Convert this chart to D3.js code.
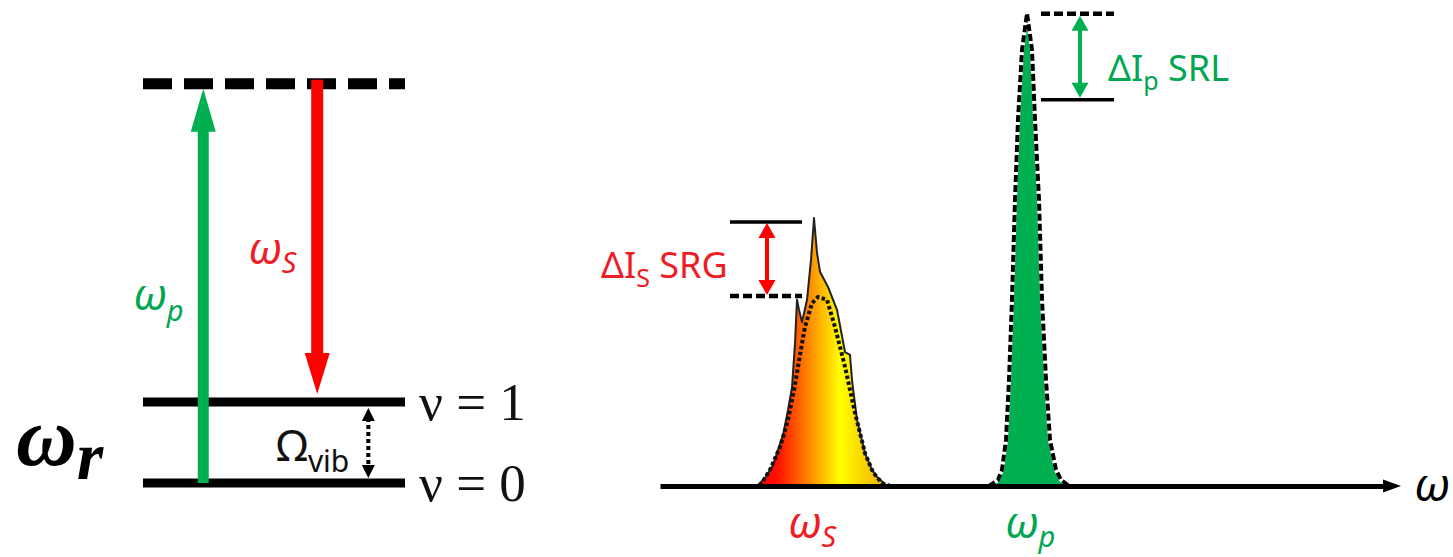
<!DOCTYPE html>
<html>
<head>
<meta charset="utf-8">
<script src="https://cdn.jsdelivr.net/npm/d3@7"></script>
<style>
  body { margin: 0; background: #fff; }
  svg { display: block; }
</style>
</head>
<body>
<script>
// ---- energy level diagram data (energies in units of the vibrational quantum)
const levelNames = ["virtual", "ν = 1", "ν = 0"];
const levelEnergy = [4.93, 1, 0];
const levelDashed = [true, false, false];

// transitions drawn as arrows: pump up to the virtual state, Stokes down to v=1
const transNames = ["p", "S"];
const transFrom = [0, 4.93];
const transTo = [4.93, 1];
const transPos = [2.3, 6.65];   // position along the level line (0..10)

// ---- spectrum data: frequency (arb.) and intensity (% of pump peak)
const stokesFreq = [97, 105, 113, 123, 128, 132, 135, 137, 139, 142, 147, 151, 154, 157, 160, 168, 177, 185, 190, 192, 197, 205, 212, 217, 227];
const stokesInt  = [0, 1.7, 4.4, 10.7, 16.0, 20.8, 30.1, 39.2, 37.1, 34.5, 39.2, 47.6, 56.4, 49.1, 45.1, 41.9, 37.1, 28.2, 27.6, 22.3, 13.9, 6.9, 3.4, 1.9, 0];

// Stokes pulse without stimulated Raman gain (dotted)
const stokesRefFreq = [100, 110, 120, 128, 135, 140, 145, 152, 158, 167, 175, 185, 195, 205, 213, 222, 230];
const stokesRefInt  = [0, 3.4, 8.2, 13.9, 21.3, 27.6, 33.5, 38.5, 39.8, 39.2, 33.5, 25.1, 15.4, 6.9, 2.9, 0.6, 0];

const pumpFreq = [330, 339, 343, 347, 350, 353, 356, 359, 363, 367, 371, 374, 378, 381, 385, 389, 395, 400, 408];
const pumpInt  = [0, 1.3, 3.4, 9.7, 22.3, 39.2, 60.2, 77.1, 91.8, 100, 91.8, 77.1, 60.2, 39.2, 22.3, 9.7, 3.4, 1.3, 0];

// pump pulse reference outline (dashed)
const pumpRefFreq = [329, 338, 342, 346, 349, 352, 355, 358, 362, 367, 372, 375, 379, 382, 386, 390, 396, 401, 409];
const pumpRefInt  = [0, 1.3, 3.4, 9.7, 22.3, 39.2, 60.2, 77.1, 91.8, 99.5, 91.8, 77.1, 60.2, 39.2, 22.3, 9.7, 3.4, 1.3, 0];

// intensity change markers [upper, lower]
const srgLevels = [55.6, 40.0];
const srlLevels = [99.4, 81.3];

const width = 1453;
const height = 557;
const green = "#00b050";
const red = "#ff0000";
const sans = "'Noto Sans', 'Open Sans', sans-serif";
const serif = "'Liberation Serif', 'DejaVu Serif', serif";

const svg = d3.select("body")
  .append("svg")
  .attr("width", width)
  .attr("height", height);

svg.append("rect").attr("width", width).attr("height", height).attr("fill", "#fff");

// scales for the level diagram
const lx = d3.scaleLinear().domain([0, 10]).range([143, 405]);
const ly = d3.scaleLinear().domain([0, 1]).range([483, 402]);

// scales for the spectrum
const fx = d3.scaleLinear().domain([0, 726]).range([660, 1386]);
const iy = d3.scaleLinear().domain([0, 100]).range([486, 11]);

// filled arrow as polygon, from y0 to tip y1
function arrowPath(x, y0, y1, sw, hw, hl) {
  const dir = y1 > y0 ? 1 : -1;
  const hb = y1 - dir * hl;
  return d3.line()([
    [x - sw / 2, y0], [x - sw / 2, hb], [x - hw / 2, hb], [x, y1],
    [x + hw / 2, hb], [x + sw / 2, hb], [x + sw / 2, y0]
  ]) + "Z";
}

function headPath(x, y, dir, hw, hl) {
  return d3.line()([[x - hw / 2, y - dir * hl], [x, y], [x + hw / 2, y - dir * hl]]) + "Z";
}

// ---------------- energy level diagram ----------------
const levels = svg.append("g");

levels.selectAll("line.level")
  .data(levelEnergy)
  .enter()
  .append("line")
  .attr("class", "level")
  .attr("x1", lx(0))
  .attr("x2", lx(10))
  .attr("y1", d => ly(d))
  .attr("y2", d => ly(d))
  .attr("stroke", "#000")
  .attr("stroke-width", (d, i) => levelDashed[i] ? 11 : 9)
  .attr("stroke-dasharray", (d, i) => levelDashed[i] ? "29 12" : null);

levels.selectAll("text.level")
  .data(levelNames.slice(1))
  .enter()
  .append("text")
  .attr("x", lx(10) + 14)
  .attr("y", (d, i) => ly(levelEnergy[i + 1]) + 18)
  .attr("font-family", serif)
  .attr("font-size", 53)
  .attr("fill", "#111")
  .text(d => d);

// pump (up) and Stokes (down) arrows
const transColors = [green, red];
transNames.forEach((name, i) => {
  const up = transTo[i] > transFrom[i];
  const y0 = up ? ly(transFrom[i]) : ly(transFrom[i]) - 4;
  const y1 = up ? ly(transTo[i]) + 5 : ly(transTo[i]) - 8;
  levels.append("path")
    .attr("d", arrowPath(lx(transPos[i]), y0, y1, up ? 11 : 12, 25, up ? 43 : 41))
    .attr("fill", transColors[i]);
});

// transition labels
const labP = levels.append("text")
  .attr("x", lx(transPos[0]) - 70)
  .attr("y", 310)
  .attr("font-family", sans)
  .attr("font-style", "italic")
  .attr("font-size", 43)
  .attr("fill", "#00a650");
labP.append("tspan").text("ω");
labP.append("tspan").attr("dy", 11).attr("font-size", 29).text("p");

const labS = levels.append("text")
  .attr("x", lx(transPos[1]) - 69)
  .attr("y", 264)
  .attr("font-family", sans)
  .attr("font-style", "italic")
  .attr("font-size", 43)
  .attr("fill", "#ee1c24");
labS.append("tspan").text("ω");
labS.append("tspan").attr("dy", 9).attr("font-size", 29).text("S");

// vibrational spacing, dotted double arrow
const vibX = lx(8.6);
levels.append("line")
  .attr("x1", vibX).attr("x2", vibX)
  .attr("y1", ly(1) + 16).attr("y2", ly(0) - 16)
  .attr("stroke", "#000")
  .attr("stroke-width", 4)
  .attr("stroke-dasharray", "4 3");
levels.append("path").attr("d", headPath(vibX, ly(1) + 6, -1, 13, 13)).attr("fill", "#000");
levels.append("path").attr("d", headPath(vibX, ly(0) - 5, 1, 13, 13)).attr("fill", "#000");

const omega = levels.append("text")
  .attr("x", vibX - 92)
  .attr("y", 461)
  .attr("font-family", sans)
  .attr("font-size", 44)
  .attr("fill", "#111");
omega.append("tspan").text("Ω");
omega.append("tspan").attr("dy", 11).attr("font-size", 30).text("vib");

// resonance label
const wr = svg.append("text")
  .attr("x", 16)
  .attr("y", 465)
  .attr("font-family", serif)
  .attr("font-style", "italic")
  .attr("font-weight", "bold")
  .attr("font-size", 84)
  .attr("fill", "#000");
wr.append("tspan").text("ω");
wr.append("tspan").attr("dy", 14).attr("font-size", 68).text("r");

// ---------------- spectrum ----------------
const spec = svg.append("g");

const grad = svg.append("defs").append("linearGradient")
  .attr("id", "stokesGrad")
  .attr("gradientUnits", "userSpaceOnUse")
  .attr("x1", fx(97)).attr("x2", fx(227))
  .attr("y1", 0).attr("y2", 0);
[[0, "#ff0000"], [0.16, "#ff1000"], [0.4, "#ff8800"], [0.64, "#ffff00"], [0.8, "#f8d800"], [1, "#e8b000"]]
  .forEach(s => grad.append("stop").attr("offset", s[0]).attr("stop-color", s[1]));

const area = d3.area()
  .x(d => fx(d[0]))
  .y0(iy(0))
  .y1(d => iy(d[1]));
const line = d3.line()
  .x(d => fx(d[0]))
  .y(d => iy(d[1]));

const stokes = d3.zip(stokesFreq, stokesInt);
const stokesRef = d3.zip(stokesRefFreq, stokesRefInt);
const pump = d3.zip(pumpFreq, pumpInt);
const pumpRef = d3.zip(pumpRefFreq, pumpRefInt);

spec.append("path")
  .attr("d", area(stokes))
  .attr("fill", "url(#stokesGrad)")
  .attr("stroke", "#222")
  .attr("stroke-width", 2)
  .attr("stroke-linejoin", "round");

spec.append("path")
  .attr("d", line(stokesRef))
  .attr("fill", "none")
  .attr("stroke", "#111")
  .attr("stroke-width", 4)
  .attr("stroke-dasharray", "3.5 2.5");

spec.append("path")
  .attr("d", area(pump))
  .attr("fill", green);

spec.append("path")
  .attr("d", line(pumpRef))
  .attr("fill", "none")
  .attr("stroke", "#fff")
  .attr("stroke-width", 4);

spec.append("path")
  .attr("d", line(pumpRef))
  .attr("fill", "none")
  .attr("stroke", "#000")
  .attr("stroke-width", 4)
  .attr("stroke-dasharray", "7 3");

// frequency axis
const axis = spec.append("g")
  .attr("transform", `translate(0, ${iy(0)})`)
  .call(d3.axisBottom(fx).tickValues([]).tickSizeOuter(0));
axis.select(".domain")
  .attr("stroke", "#000")
  .attr("stroke-width", 5);
spec.append("path")
  .attr("d", d3.line()([[fx(726) - 3, iy(0) - 6.5], [fx(726) + 15, iy(0)], [fx(726) - 3, iy(0) + 6.5]]) + "Z")
  .attr("fill", "#000");
spec.append("text")
  .attr("x", fx(726) + 28)
  .attr("y", iy(0) + 15)
  .attr("font-family", sans)
  .attr("font-style", "italic")
  .attr("font-size", 46)
  .attr("fill", "#000")
  .text("ω");

// peak labels under the axis
const peakLabels = [["S", 128, "#ee1c24"], ["p", 345, "#00a650"]];
peakLabels.forEach(p => {
  const t = spec.append("text")
    .attr("x", fx(p[1]))
    .attr("y", 538)
    .attr("font-family", sans)
    .attr("font-style", "italic")
    .attr("font-size", 43)
    .attr("fill", p[2]);
  t.append("tspan").text("ω");
  t.append("tspan").attr("dy", 9).attr("font-size", 29).text(p[0]);
});

// SRG marker on the Stokes peak
const srgX0 = fx(70), srgX1 = fx(142), srgA = fx(107);
spec.append("line")
  .attr("x1", srgX0).attr("x2", srgX1)
  .attr("y1", iy(srgLevels[0])).attr("y2", iy(srgLevels[0]))
  .attr("stroke", "#000").attr("stroke-width", 3.5);
spec.append("line")
  .attr("x1", srgX0).attr("x2", srgX1)
  .attr("y1", iy(srgLevels[1])).attr("y2", iy(srgLevels[1]))
  .attr("stroke", "#000").attr("stroke-width", 4.5)
  .attr("stroke-dasharray", "9 4");
spec.append("line")
  .attr("x1", srgA).attr("x2", srgA)
  .attr("y1", iy(srgLevels[0]) + 10).attr("y2", iy(srgLevels[1]) - 10)
  .attr("stroke", red).attr("stroke-width", 4);
spec.append("path").attr("d", headPath(srgA, iy(srgLevels[0]) + 1, -1, 17, 15)).attr("fill", red);
spec.append("path").attr("d", headPath(srgA, iy(srgLevels[1]) - 1, 1, 17, 15)).attr("fill", red);

const srgText = spec.append("text")
  .attr("x", srgX0 - 129)
  .attr("y", 278)
  .attr("font-family", sans)
  .attr("font-size", 36)
  .attr("fill", "#ee1c24");
srgText.append("tspan").text("ΔI");
srgText.append("tspan").attr("dy", 9).attr("font-size", 25).text("S");
srgText.append("tspan").attr("dy", -9).text(" SRG");

// SRL marker on the pump peak
const srlX0 = fx(381), srlX1 = fx(454), srlA = fx(420);
spec.append("line")
  .attr("x1", srlX0).attr("x2", srlX1)
  .attr("y1", iy(srlLevels[0])).attr("y2", iy(srlLevels[0]))
  .attr("stroke", "#000").attr("stroke-width", 4.5)
  .attr("stroke-dasharray", "9 4");
spec.append("line")
  .attr("x1", srlX0).attr("x2", srlX1)
  .attr("y1", iy(srlLevels[1])).attr("y2", iy(srlLevels[1]))
  .attr("stroke", "#000").attr("stroke-width", 3.5);
spec.append("line")
  .attr("x1", srlA).attr("x2", srlA)
  .attr("y1", iy(srlLevels[0]) + 10).attr("y2", iy(srlLevels[1]) - 10)
  .attr("stroke", green).attr("stroke-width", 4);
spec.append("path").attr("d", headPath(srlA, iy(srlLevels[0]) + 2, -1, 17, 15)).attr("fill", green);
spec.append("path").attr("d", headPath(srlA, iy(srlLevels[1]) - 2, 1, 17, 15)).attr("fill", green);

const srlText = spec.append("text")
  .attr("x", srlX1 - 6)
  .attr("y", 81)
  .attr("font-family", sans)
  .attr("font-size", 36)
  .attr("fill", "#00a650");
srlText.append("tspan").text("ΔI");
srlText.append("tspan").attr("dy", 9).attr("font-size", 25).text("p");
srlText.append("tspan").attr("dy", -9).text(" SRL");
</script>
</body>
</html>
